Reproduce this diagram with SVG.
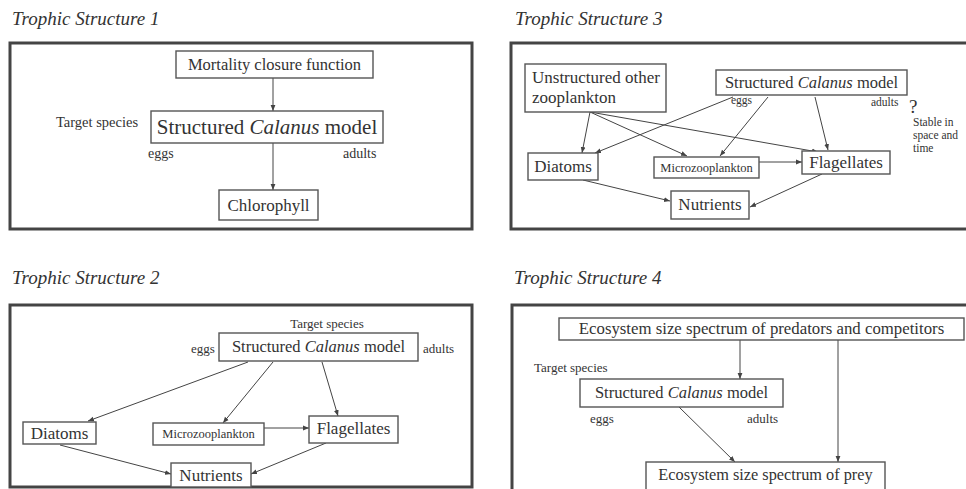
<svg xmlns="http://www.w3.org/2000/svg" width="966" height="489" viewBox="0 0 966 489">
  <style>
    text { font-family: "Liberation Serif", "Times New Roman", serif; fill: #333; }
    .title { font-size: 19px; font-style: italic; }
    .frame { fill: none; stroke: #444; stroke-width: 3; }
    .box { fill: #fff; stroke: #555; stroke-width: 1.4; }
    .edge { fill: none; stroke: #444; stroke-width: 1; marker-end: url(#head); }
    .lbl { font-size: 16.5px; }
    .small { font-size: 13px; }
    .note { font-size: 11.5px; }
  </style>
  <defs>
    <marker id="head" viewBox="0 0 10 10" refX="10" refY="5" markerWidth="6" markerHeight="6" orient="auto" markerUnits="userSpaceOnUse">
      <path d="M0,1 L10,5 L0,9 z" fill="#444"/>
    </marker>
  </defs>

  <!-- Panel 1 -->
  <text class="title" x="12" y="25">Trophic Structure 1</text>
  <rect class="frame" x="10" y="43" width="462" height="186"/>
  <g id="connectors-1">
    <line class="edge" x1="273" y1="78" x2="273" y2="111"/>
    <line class="edge" x1="273" y1="143" x2="273" y2="190"/>
  </g>
  <g id="p1-mortality">
    <rect class="box" x="176" y="51" width="197" height="27"/>
    <text x="274.5" y="70" text-anchor="middle" font-size="16.5">Mortality closure function</text>
  </g>
  <g id="p1-calanus">
    <rect class="box" x="151" y="111" width="232" height="32"/>
    <text x="267" y="134" text-anchor="middle" font-size="21">Structured <tspan font-style="italic">Calanus</tspan> model</text>
    <text x="56" y="127" font-size="14.5">Target species</text>
    <text x="148" y="158" font-size="14">eggs</text>
    <text x="343" y="158" font-size="14">adults</text>
  </g>
  <g id="p1-chlorophyll">
    <rect class="box" x="219" y="190" width="99" height="30"/>
    <text x="268.5" y="211" text-anchor="middle" font-size="17">Chlorophyll</text>
  </g>

  <!-- Panel 3 -->
  <text class="title" x="515" y="25">Trophic Structure 3</text>
  <rect class="frame" x="511" y="43" width="470" height="186"/>
  <g id="connectors-3">
    <line class="edge" x1="590" y1="112" x2="582" y2="153"/>
    <line class="edge" x1="590" y1="112" x2="687" y2="156"/>
    <line class="edge" x1="590" y1="112" x2="818" y2="152"/>
    <line class="edge" x1="733" y1="97" x2="595" y2="153"/>
    <line class="edge" x1="768" y1="97" x2="720" y2="156"/>
    <line class="edge" x1="815" y1="97" x2="828" y2="150"/>
    <line class="edge" x1="759" y1="162" x2="802" y2="162"/>
    <line class="edge" x1="583" y1="180" x2="670" y2="201"/>
    <line class="edge" x1="822" y1="174" x2="750" y2="207"/>
  </g>
  <g id="p3-unstructured">
    <rect class="box" x="525" y="64" width="141" height="48"/>
    <text x="532" y="83" font-size="17">Unstructured other</text>
    <text x="532" y="103" font-size="17">zooplankton</text>
  </g>
  <g id="p3-calanus">
    <rect class="box" x="716" y="70" width="191" height="25"/>
    <text class="lbl" x="811.5" y="88" text-anchor="middle">Structured <tspan font-style="italic">Calanus</tspan> model</text>
    <text x="731" y="104" font-size="11.5">eggs</text>
    <text x="871" y="106" font-size="11.5">adults</text>
  </g>
  <g id="p3-note">
    <text x="909" y="113" font-size="19">?</text>
    <text class="note" x="913" y="126">Stable in</text>
    <text class="note" x="913" y="139">space and</text>
    <text class="note" x="913" y="152">time</text>
  </g>
  <g id="p3-diatoms">
    <rect class="box" x="528" y="153" width="70" height="27"/>
    <text x="563" y="172" text-anchor="middle" font-size="17">Diatoms</text>
  </g>
  <g id="p3-microzooplankton">
    <rect class="box" x="654" y="157" width="105" height="21"/>
    <text x="706.5" y="172" text-anchor="middle" font-size="12.5">Microzooplankton</text>
  </g>
  <g id="p3-flagellates">
    <rect class="box" x="802" y="151" width="88" height="23"/>
    <text x="846" y="168" text-anchor="middle" font-size="17">Flagellates</text>
  </g>
  <g id="p3-nutrients">
    <rect class="box" x="671" y="191" width="78" height="28"/>
    <text x="710" y="210" text-anchor="middle" font-size="17">Nutrients</text>
  </g>

  <!-- Panel 2 -->
  <text class="title" x="12" y="284">Trophic Structure 2</text>
  <rect class="frame" x="10" y="305" width="462" height="182"/>
  <g id="connectors-2">
    <line class="edge" x1="248" y1="362" x2="88" y2="421"/>
    <line class="edge" x1="273" y1="362" x2="223" y2="423"/>
    <line class="edge" x1="322" y1="362" x2="338" y2="416"/>
    <line class="edge" x1="264" y1="428" x2="309" y2="428"/>
    <line class="edge" x1="60" y1="445" x2="171" y2="474"/>
    <line class="edge" x1="326" y1="443" x2="251" y2="474"/>
  </g>
  <g id="p2-calanus">
    <rect class="box" x="219" y="333" width="199" height="28"/>
    <text class="lbl" x="318.5" y="352" text-anchor="middle">Structured <tspan font-style="italic">Calanus</tspan> model</text>
    <text class="small" x="327" y="328" text-anchor="middle">Target species</text>
    <text class="small" x="191" y="353">eggs</text>
    <text class="small" x="423" y="353">adults</text>
  </g>
  <g id="p2-diatoms">
    <rect class="box" x="23" y="422" width="73" height="22"/>
    <text x="59.5" y="439" text-anchor="middle" font-size="17">Diatoms</text>
  </g>
  <g id="p2-microzooplankton">
    <rect class="box" x="153" y="423" width="111" height="22"/>
    <text x="208.5" y="438" text-anchor="middle" font-size="12.5">Microzooplankton</text>
  </g>
  <g id="p2-flagellates">
    <rect class="box" x="309" y="416" width="89" height="27"/>
    <text x="353.5" y="434" text-anchor="middle" font-size="17">Flagellates</text>
  </g>
  <g id="p2-nutrients">
    <rect class="box" x="171" y="463" width="80" height="24"/>
    <text x="211" y="481" text-anchor="middle" font-size="17">Nutrients</text>
  </g>

  <!-- Panel 4 -->
  <text class="title" x="514" y="284">Trophic Structure 4</text>
  <rect class="frame" x="512" y="305" width="470" height="190"/>
  <g id="connectors-4">
    <line class="edge" x1="740" y1="340" x2="740" y2="379"/>
    <line class="edge" x1="838" y1="340" x2="838" y2="462"/>
    <line class="edge" x1="679" y1="407" x2="735" y2="462"/>
  </g>
  <g id="p4-predators">
    <rect class="box" x="559" y="318" width="405" height="22"/>
    <text x="761.5" y="334" text-anchor="middle" font-size="16.8">Ecosystem size spectrum of predators and competitors</text>
  </g>
  <g id="p4-calanus">
    <rect class="box" x="580" y="379" width="203" height="28"/>
    <text class="lbl" x="681.5" y="398" text-anchor="middle">Structured <tspan font-style="italic">Calanus</tspan> model</text>
    <text class="small" x="534" y="372">Target species</text>
    <text class="small" x="590" y="423">eggs</text>
    <text class="small" x="747" y="423">adults</text>
  </g>
  <g id="p4-prey">
    <rect class="box" x="646" y="462" width="239" height="30"/>
    <text x="765.5" y="480" text-anchor="middle" font-size="16.3">Ecosystem size spectrum of prey</text>
  </g>
</svg>
